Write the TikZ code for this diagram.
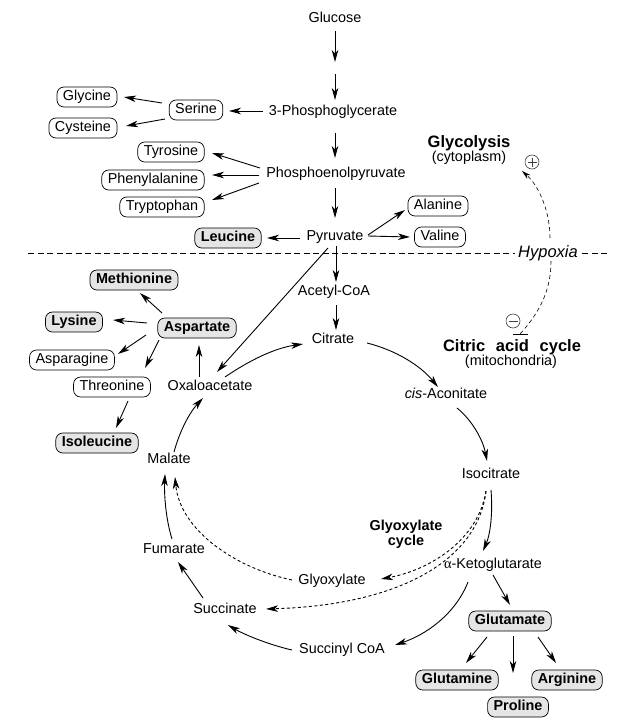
\documentclass[tikz,border=0pt]{standalone}
\usepackage{fontspec}
\setmainfont{Liberation Sans}
\newfontfamily\greekserif{Liberation Serif}
\usetikzlibrary{arrows.meta,calc}
\begin{document}
\begin{tikzpicture}[x=1pt,y=-1pt,
  every node/.style={font=\fontsize{14.4}{17}\selectfont, inner sep=0pt, text height=10.5pt, text depth=3pt},
  abox/.style={draw, rounded corners=7pt, line width=0.7pt, inner xsep=6pt, inner ysep=0pt, minimum height=20pt},
  gbox/.style={abox, fill=gray!20, font=\fontsize{14.4}{17}\selectfont\bfseries},
  ttl/.style={font=\fontsize{16.5}{19}\selectfont\bfseries, text height=12pt, text depth=3.5pt},
  arr/.style={line width=0.9pt, -{Stealth[length=12pt,width=6.5pt,inset=3.5pt]}},
  dotarr/.style={arr, dash pattern=on 3pt off 2.5pt},
  hyarr/.style={line width=0.6pt, dash pattern=on 4pt off 3pt},
  hyline/.style={line width=0.8pt, dash pattern=on 6pt off 3.5pt},
  sign/.style={circle, draw=black!75, line width=0.6pt, minimum size=14pt, inner sep=0pt, text height=0pt, text depth=0pt}
]
\fill[white] (0,0) rectangle (619,728);
\path[use as bounding box] (0,0) rectangle (619,728);

% nodes
\node (glc) at (335,19) {Glucose};
\coordinate (mid) at (335,68);
\node (pg) at (333,112) {3-Phosphoglycerate};
\node[abox] (ser) at (196,110) {Serine};
\node[abox] (gly) at (87,97) {Glycine};
\node[abox] (cys) at (83,128) {Cysteine};
\node (pep) at (336,174) {Phosphoenolpyruvate};
\node[abox] (tyr) at (171,152) {Tyrosine};
\node[abox] (phe) at (153,180) {Phenylalanine};
\node[abox] (trp) at (162,207) {Tryptophan};
\node (pyr) at (335,237) {Pyruvate};
\node[gbox] (leu) at (228,238) {Leucine};
\node[abox] (ala) at (438,206) {Alanine};
\node[abox] (val) at (440,237) {Valine};
\node[font=\fontsize{16.5}{19}\selectfont\itshape, text height=12pt, text depth=3.5pt] (hyp) at (548,253) {Hypoxia};
\node[ttl] (glycol) at (469,143) {Glycolysis};
\node (cyto) at (469,158) {(cytoplasm)};
\node[sign] (plus) at (532,162) {};
\node[sign] (minus) at (513,321) {};
\node[ttl] (cac) at (512,347) {Citric\hspace{0.65em}acid\hspace{0.65em}cycle};
\node (mito) at (511,362) {(mitochondria)};
\node (acoa) at (334,292) {Acetyl-CoA};
\node (cit) at (333,340) {Citrate};
\node (oaa) at (210,387) {Oxaloacetate};
\node[gbox] (asp) at (197,328) {Aspartate};
\node[gbox] (met) at (134,280) {Methionine};
\node[gbox] (lys) at (74,322) {Lysine};
\node[abox] (asn) at (72,360) {Asparagine};
\node[abox] (thr) at (112,387) {Threonine};
\node[gbox] (ile) at (97,443) {Isoleucine};
\node (mal) at (169,460) {Malate};
\node (fum) at (174,550) {Fumarate};
\node (gox) at (332,581) {Glyoxylate};
\node (suc) at (225,610) {Succinate};
\node (scoa) at (342,650) {Succinyl CoA};
\node (cis) at (446,395) {\textit{cis}-Aconitate};
\node (iso) at (491,475) {Isocitrate};
\node (akg) at (493,565) {{\greekserif α}-Ketoglutarate};
\node[gbox] (glu) at (510,621) {Glutamate};
\node[gbox] (gln) at (457,680) {Glutamine};
\node[gbox] (pro) at (518,707) {Proline};
\node[gbox] (arg) at (567,680) {Arginine};
\node[font=\fontsize{14.4}{17}\selectfont\bfseries] (goxc1) at (406,527) {Glyoxylate};
\node[font=\fontsize{14.4}{17}\selectfont\bfseries] (goxc2) at (406,542) {cycle};

% signs
\draw[line width=0.6pt, black!75] ($(plus)+(-4.5,0)$) -- ($(plus)+(4.5,0)$) ($(plus)+(0,-4.5)$) -- ($(plus)+(0,4.5)$);
\draw[line width=0.6pt, black!75] ($(minus)+(-4.5,0)$) -- ($(minus)+(4.5,0)$);

% hypoxia line
\coordinate (hl) at (28,253);
\coordinate (hr) at (608,253);
\draw[hyline] (hl) -- ($(hyp.west)+(-3,0)$);
\draw[hyline] ($(hyp.east)+(4,0)$) -- (hr);

% glycolysis arrows
\draw[arr] ($(glc)+(0,12)$) -- ($(mid)+(0,-6)$);
\draw[arr] ($(mid)+(0,6)$) -- ($(pg)+(2,-12)$);
\draw[arr] ($(pg)+(-70,-1)$) -- ($(ser)+(33,1)$);
\draw[arr] ($(ser)+(-34,-7)$) -- ($(gly)+(37,0)$);
\draw[arr] ($(ser)+(-31,9)$) -- ($(cys)+(43,-2)$);
\draw[arr] ($(pg)+(2,21)$) -- ($(pep)+(-1,-16)$);
\draw[arr] ($(pep)+(-76,-6)$) -- ($(tyr)+(41,1)$);
\draw[arr] ($(pep)+(-77,1)$) -- ($(phe)+(59,-5)$);
\draw[arr] ($(pep)+(-77,9)$) -- ($(trp)+(50,-7)$);
\draw[arr] ($(pep)+(-1,14)$) -- ($(pyr)+(0,-19)$);
\draw[arr] ($(pyr)+(-35,1)$) -- ($(leu)+(39,0)$);
\draw[arr] ($(pyr)+(33,-2)$) -- ($(ala)+(-33,4)$);
\draw[arr] ($(pyr)+(33,-1)$) -- ($(val)+(-30,0)$);
\draw[arr] ($(pyr)+(1,9)$) -- ($(acoa)+(2,-10)$);
\draw[arr] ($(pyr)+(-7,11)$) -- ($(oaa)+(7,-15)$);

% citric acid cycle
\draw[arr] ($(acoa)+(2,13)$) -- ($(cit)+(3,-10)$);
\draw[arr] ($(oaa)+(15,-10)$) .. controls (250,360) and (275,348) .. ($(cit)+(-30,4)$);
\draw[arr] ($(cit)+(34,3)$) .. controls (395,350) and (420,365) .. ($(cis)+(-8,-8)$);
\draw[arr] ($(cis)+(11,13)$) .. controls (472,420) and (483,440) .. ($(iso)+(-4,-14)$);
\draw[arr] ($(iso)+(0,15)$) .. controls (493,515) and (490,535) .. ($(akg)+(-10,-14)$);
\draw[arr] ($(akg)+(0,10)$) -- ($(glu)+(0,-16)$);
\draw[arr] ($(glu)+(-23,16)$) -- ($(gln)+(9,-17)$);
\draw[arr] ($(glu)+(3,15)$) -- ($(pro)+(-5,-34)$);
\draw[arr] ($(glu)+(28,16)$) -- ($(arg)+(-11,-17)$);
\draw[arr] ($(akg)+(-25,17)$) .. controls (455,615) and (425,635) .. ($(scoa)+(53,-5)$);
\draw[arr] ($(scoa)+(-50,0)$) .. controls (270,645) and (245,635) .. ($(suc)+(3,15)$);
\draw[arr] ($(suc)+(-22,-12)$) -- ($(fum)+(4,12)$);
\draw[arr] ($(fum)+(-2,-11)$) .. controls (166,520) and (164,495) .. ($(mal)+(-4,14)$);
\draw[arr] ($(mal)+(5,-8)$) .. controls (180,430) and (190,412) .. ($(oaa)+(-7,11)$);

% aspartate family
\draw[arr] ($(oaa)+(-11,-10)$) -- ($(asp)+(2,17)$);
\draw[arr] ($(asp)+(-35,-15)$) -- ($(met)+(6,13)$);
\draw[arr] ($(asp)+(-50,-5)$) -- ($(lys)+(39,-2)$);
\draw[arr] ($(asp)+(-51,7)$) -- ($(asn)+(46,-6)$);
\draw[arr] ($(asp)+(-38,12)$) -- ($(thr)+(33,-19)$);
\draw[arr] ($(thr)+(16,14)$) -- ($(ile)+(19,-15)$);

% glyoxylate cycle
\draw[dotarr] ($(iso)+(-5,16)$) .. controls (478,540) and (430,570) .. ($(gox)+(49,-2)$);
\draw[dotarr] ($(iso)+(-5,16)$) .. controls (478,560) and (400,605) .. ($(suc)+(41,-1)$);
\draw[dotarr] ($(gox)+(-40,-1)$) .. controls (235,568) and (180,530) .. ($(mal)+(6,17)$);

% hypoxia effects
\draw[hyarr, -{Stealth[length=9pt,width=5pt,inset=2.5pt]}] ($(hyp)+(2,-15)$) .. controls (550,210) and (538,185) .. ($(plus)+(-10,9)$);
\coordinate (inh) at (520,334);
\draw[hyarr] ($(hyp)+(3,8)$) .. controls (551,290) and (540,312) .. (inh);
\draw[line width=0.6pt] ($(inh)+(-7,0)$) -- ($(inh)+(8,0)$);
\end{tikzpicture}
\end{document}
